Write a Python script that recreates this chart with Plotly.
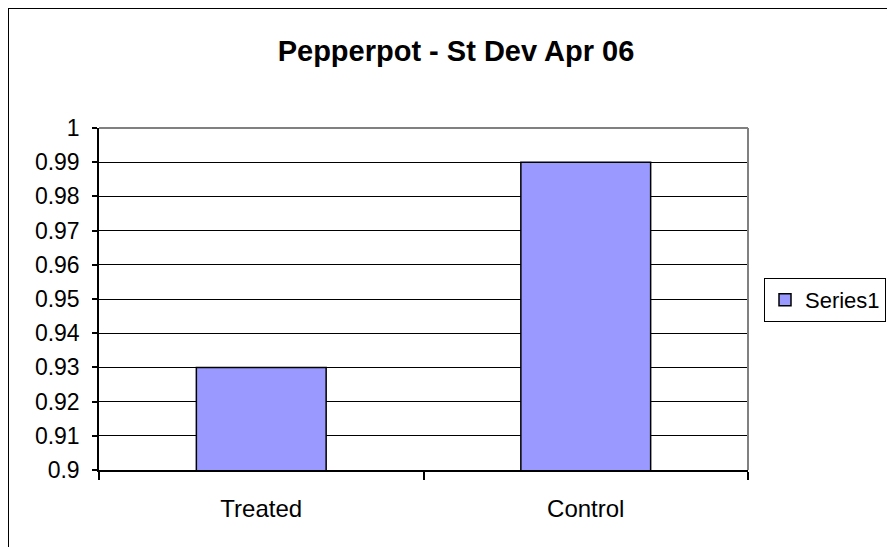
import plotly.graph_objects as go

categories = ["Treated", "Control"]
values = [0.93, 0.99]
series_name = "Series1"
title_text = "Pepperpot - St Dev Apr 06"
y_tick_vals = [0.9, 0.91, 0.92, 0.93, 0.94, 0.95, 0.96, 0.97, 0.98, 0.99, 1.0]
y_tick_text = ["0.9", "0.91", "0.92", "0.93", "0.94", "0.95", "0.96", "0.97", "0.98", "0.99", "1"]

OFF = 8  # page body margin
W, H = 895 - OFF, 547 - OFF
# plot area in window pixels: x 99..748, y 128..470
PL, PR, PT, PB = 99, 748, 128, 470
L, R, T, B = PL - OFF, (W + OFF) - PR, PT - OFF, (H + OFF) - PB
pw, ph = PR - PL, PB - PT

def px_x(x):
    return (x - PL) / pw

def px_y(y):
    return (PB - y) / ph

FONT = "Liberation Sans, Arial, sans-serif"

fig = go.Figure()
fig.add_trace(go.Bar(
    x=categories, y=values, name=series_name,
    marker=dict(color="#9999FF", line=dict(color="#000000", width=1.5)),
    width=0.4, showlegend=True,
))

fig.update_layout(
    width=W, height=H,
    margin=dict(l=L, r=R, t=T, b=B, autoexpand=False),
    paper_bgcolor="white", plot_bgcolor="white",
    font=dict(family=FONT, size=23, color="#000000"),
    title=dict(text="<b>" + title_text + "</b>", x=(456 - OFF) / W, xanchor="center",
               y=1 - (51 - OFF) / H, yanchor="middle", yref="container",
               font=dict(family=FONT, size=29, color="#000000")),
    showlegend=True,
    legend=dict(x=px_x(764), xanchor="left", y=px_y(278), yanchor="top",
                bordercolor="#000000", borderwidth=1, bgcolor="white",
                font=dict(family=FONT, size=22, color="#000000"),
                itemwidth=30),
    xaxis=dict(showline=True, linecolor="#000000", linewidth=1.5,
               ticks="outside", ticklen=8, tickcolor="#000000", tickwidth=1.5,
               tickson="boundaries", showgrid=False,
               tickfont=dict(family=FONT, size=24, color="#000000"),
               ticklabelstandoff=16),
    yaxis=dict(range=[0.9, 1.0], tickvals=y_tick_vals, ticktext=y_tick_text,
               showline=True, linecolor="#000000", linewidth=1.5,
               ticks="outside", ticklen=5, tickcolor="#000000", tickwidth=1.5,
               showgrid=True, gridcolor="#000000", gridwidth=1,
               zeroline=False,
               tickfont=dict(family=FONT, size=23, color="#000000"),
               ticklabelstandoff=8),
    shapes=[
        dict(type="line", xref="paper", yref="paper", x0=0, x1=1, y0=1, y1=1,
             line=dict(color="#808080", width=2), layer="above"),
        dict(type="line", xref="paper", yref="paper", x0=1, x1=1, y0=0, y1=1,
             line=dict(color="#808080", width=2), layer="above"),
        dict(type="line", xref="paper", yref="paper", x0=px_x(8), x1=px_x(8), y0=px_y(8), y1=px_y(600),
             line=dict(color="#000000", width=2)),
        dict(type="line", xref="paper", yref="paper", x0=px_x(8), x1=px_x(950), y0=px_y(8), y1=px_y(8),
             line=dict(color="#000000", width=2)),
    ],
)

fig.write_html("out.html")
